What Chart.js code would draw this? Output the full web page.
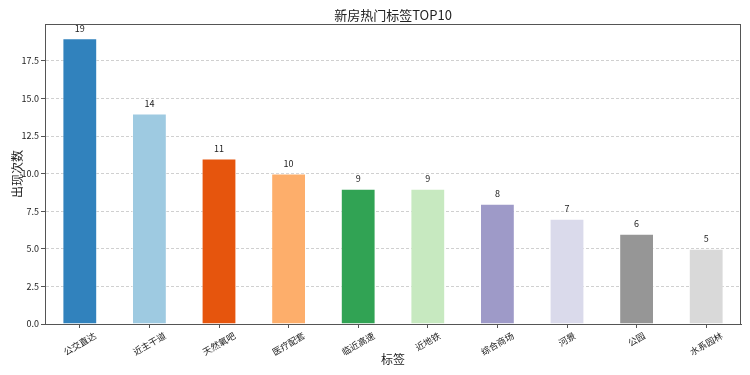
<!DOCTYPE html>
<html>
<head>
<meta charset="utf-8">
<script src="https://cdn.jsdelivr.net/npm/chart.js@4/dist/chart.umd.min.js"></script>
<style>
  html, body { margin: 0; padding: 0; background: #fff; }
  #wrap { width: 750px; height: 375px; }
</style>
</head>
<body>
<div id="wrap"><canvas id="tagChart" width="750" height="375"></canvas></div>
<script>
// data
var tagLabels = ["公交直达", "近主干道", "天然氧吧", "医疗配套", "临近高速", "近地铁", "综合商场", "河景", "公园", "水系园林"];
var tagCounts = [19, 14, 11, 10, 9, 9, 8, 7, 6, 5];
var barColors = ["#3182bd", "#9ecae1", "#e6550d", "#fdae6b", "#31a354", "#c7e9c0", "#9e9ac8", "#dadaeb", "#969696", "#d9d9d9"];
var yTickStep = 2.5;
var chartTitle = "新房热门标签TOP10";

var FONT = "'Noto Sans CJK SC', 'DejaVu Sans', sans-serif";
var AXIS_COLOR = "#555";

// frame on all four sides, centered title, rotated x labels, value labels
var extrasPlugin = {
    id: "extras",
    afterDatasetsDraw: function (chart) {
        var ctx = chart.ctx;
        var meta = chart.getDatasetMeta(0);

        ctx.save();
        ctx.fillStyle = "#222";
        ctx.font = "9px " + FONT;
        ctx.textAlign = "center";
        ctx.textBaseline = "middle";
        meta.data.forEach(function (bar, i) {
            ctx.fillText(String(tagCounts[i]), bar.x, bar.y - 10);
        });
        ctx.restore();
    },
    afterDraw: function (chart) {
        var ctx = chart.ctx;
        var area = chart.chartArea;
        var xScale = chart.scales.x;

        ctx.save();
        ctx.strokeStyle = AXIS_COLOR;
        ctx.lineWidth = 1;
        ctx.setLineDash([]);
        ctx.strokeRect(Math.round(area.left) + 0.5, Math.round(area.top) + 0.5,
            Math.round(area.right - area.left) - 1, Math.round(area.bottom - area.top));

        // title over the plot area
        ctx.fillStyle = "#222";
        ctx.font = "13px " + FONT;
        ctx.textAlign = "center";
        ctx.textBaseline = "middle";
        ctx.fillText(chartTitle, (area.left + area.right) / 2, 15);

        ctx.font = "9px " + FONT;
        var ang = 30 * Math.PI / 180;
        tagLabels.forEach(function (lbl, i) {
            var x = xScale.getPixelForTick(i);
            var w = ctx.measureText(lbl).width;
            var h = 9;
            var bboxH = w * Math.sin(ang) + h * Math.cos(ang);
            var cy = area.bottom + 7 + bboxH / 2;
            ctx.save();
            ctx.translate(x, cy);
            ctx.rotate(-ang);
            ctx.fillText(lbl, 0, 0);
            ctx.restore();
        });
        ctx.restore();
    }
};

var chart = new Chart(document.getElementById("tagChart"), {
    type: "bar",
    data: {
        labels: tagLabels,
        datasets: [{
            data: tagCounts,
            backgroundColor: barColors,
            borderColor: "rgba(255,255,255,0.5)",
            borderWidth: 1,
            categoryPercentage: 0.5,
            barPercentage: 1.0
        }]
    },
    options: {
        responsive: false,
        animation: false,
        layout: { padding: { left: 0, right: 9, top: 24, bottom: 0 } },
        plugins: {
            legend: { display: false },
            tooltip: { enabled: false },
            title: { display: false }
        },
        scales: {
            x: {
                grid: {
                    drawOnChartArea: false,
                    drawTicks: true,
                    tickLength: 4,
                    tickColor: AXIS_COLOR,
                    offset: false
                },
                border: { display: true, color: AXIS_COLOR },
                ticks: { display: false },
                title: {
                    display: true,
                    text: "标签",
                    color: "#222",
                    font: { family: FONT, size: 12 },
                    padding: { top: 0, bottom: 8 }
                },
                afterFit: function (scale) { scale.height = 51; }
            },
            y: {
                min: 0,
                max: 19.95,
                grid: {
                    color: "#d0d0d0",
                    tickLength: 4,
                    tickColor: AXIS_COLOR,
                    tickBorderDash: []
                },
                border: { display: true, color: AXIS_COLOR, dash: [3, 2] },
                ticks: {
                    stepSize: yTickStep,
                    includeBounds: false,
                    padding: 2,
                    color: "#222",
                    font: { family: FONT, size: 9 },
                    callback: function (v) { return Number(v).toFixed(1); }
                },
                title: {
                    display: true,
                    text: "出现次数",
                    color: "#222",
                    font: { family: FONT, size: 12 },
                    padding: { top: 10, bottom: 0 }
                },
                afterFit: function (scale) { scale.width = 45; }
            }
        }
    },
    plugins: [extrasPlugin]
});
</script>
</body>
</html>
